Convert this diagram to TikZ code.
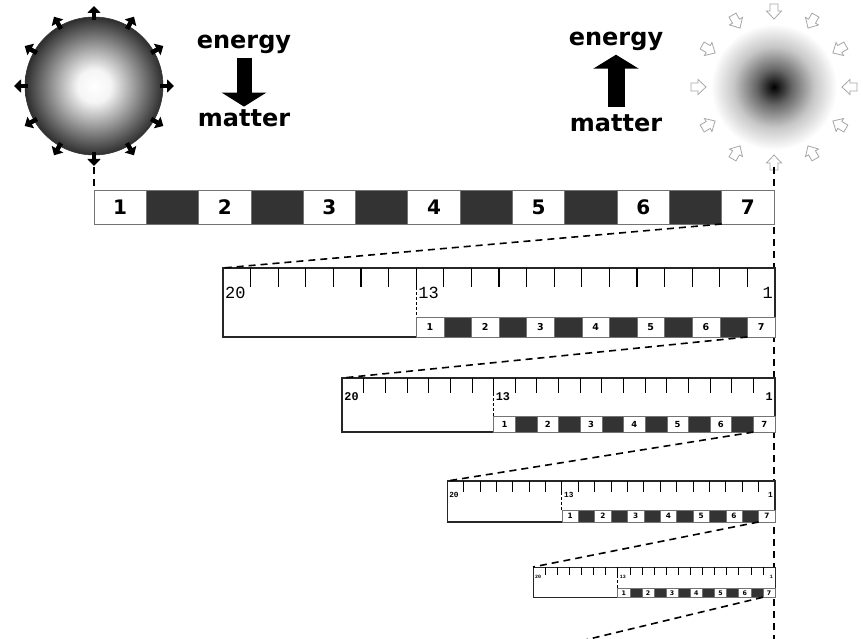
\documentclass[tikz,border=0pt]{standalone}
\usepackage{fontspec}
\setmainfont{DejaVu Sans}
\newfontfamily\rulerfont{Liberation Mono}
\usetikzlibrary{arrows.meta, positioning, calc}
\pgfdeclareradialshading{bright}{\pgfpoint{0bp}{0bp}}{color(0bp)=(white); color(6bp)=(white!96!black); color(25bp)=(black!82); color(50bp)=(black!82)}
\pgfdeclareradialshading{faded}{\pgfpoint{0bp}{0bp}}{color(0bp)=(black); color(7bp)=(black!60); color(16bp)=(black!22); color(25bp)=(white); color(50bp)=(white)}

\begin{document}
\begin{tikzpicture}[x=1pt, y=-1pt,
    cell/.style={draw=black!55, line width=0.8pt, fill=white, minimum width=52.31pt, minimum height=34pt, inner sep=0pt, outer sep=0pt, anchor=north west, font=\bfseries\fontsize{20}{20}\selectfont},
    minicell/.style={draw=black!55, line width=0.5pt, fill=white, inner sep=0pt, outer sep=0pt, anchor=north west},
    lvlbox/.style={draw=black!85, fill=white, inner sep=0pt, outer sep=0pt, anchor=north west},
    word/.style={font=\bfseries\fontsize{24}{24}\selectfont, anchor=base},
    guide/.style={line width=1.6pt, dash pattern=on 7pt off 5pt},
    zoomline/.style={line width=1.6pt, dash pattern=on 7pt off 5pt},
    sunray/.style={-{Triangle[width=13pt,length=7pt]}, line width=4.5pt},
    hollowarrow/.style={draw=black!35, line width=0.8pt, fill=white}
  ]
  \path[fill=white, use as bounding box] (0,0) rectangle (863,639);

  % radiating star and the fading one
  \node[circle, draw=black!80, line width=0.6pt, minimum size=138pt, inner sep=0pt, shading=bright] (sun) at (94,86) {};
  \foreach \a in {0,30,...,330}
    \draw[sunray, shift={(sun.center)}] (\a:66) -- (\a:80);
  \node[circle, minimum size=126pt, inner sep=0pt, shading=faded] (sink) at (774,87) {};
  \foreach \a in {0,30,...,330}
    \draw[hollowarrow, shift={(sink.center)}, rotate=\a] (83,-4) -- (76,-4) -- (76,-7.5) -- (68,0) -- (76,7.5) -- (76,4) -- (83,4) -- cycle;

  % energy / matter
  \node[word] (energyL) at (244,49) {energy};
  \node[word] (matterL) at (244,127) {matter};
  \draw[-{Triangle[width=44pt,length=14pt]}, line width=15pt] (energyL.south) -- (matterL.north);
  \node[word] (energyR) at (616,46) {energy};
  \node[word] (matterR) at (616,132) {matter};
  \draw[-{Triangle[width=45pt,length=14pt]}, line width=17pt] ([yshift=5pt]matterR.north) -- (energyR.south);

  % guide lines
  \coordinate (guideend) at (774,645);
  \draw[guide] ([yshift=-12pt]sun.south) -- (94,190);
  \draw[guide] ([yshift=-80pt]sink.center) -- (guideend);

  % the seven-cell bar
  \foreach \i in {1,...,7}
    \node[cell] (bar\i) at (94+104.62*\i-104.62,190) {\i};
  \foreach \i in {1,...,6}
    \node[cell, fill=black!80] (gap\i) at (94+104.62*\i-52.31,190) {};

  % zoomed windows
  \foreach \lv/\ty/\sc in {1/268/1, 2/378/0.784, 3/481/0.594, 4/567/0.4384} {
    \pgfmathsetmacro\bw{552*\sc}
    \pgfmathsetmacro\bh{69*\sc}
    \pgfmathsetmacro\du{\bw/20}
    \pgfmathsetmacro\lx{775-\bw}
    \pgfmathsetmacro\mh{20*\sc}
    \pgfmathsetmacro\tk{19*\sc}
    \pgfmathsetmacro\lw{2*\sc}
    \pgfmathsetmacro\tw{1.3*\sc}
    \pgfmathsetmacro\fa{17*\sc^1.5}
    \pgfmathsetmacro\fb{9.5*sqrt(\sc)}
    \node[lvlbox, minimum width=\bw pt, minimum height=\bh pt, line width=\lw pt] (box\lv) at (\lx,\ty) {};
    \foreach \k in {1,...,19}
      \draw[line width=\tw pt] (\lx+\k*\du,\ty) -- ++(0,\tk);
    \draw[line width=\tw pt, dash pattern=on 3pt off 2pt] (\lx+7*\du,\ty+\tk) -- (\lx+7*\du,\ty+\bh-\mh);
    \foreach \j in {1,...,13} {
      \pgfmathtruncatemacro\num{(\j+1)/2}
      \ifodd\j\relax
        \node[minicell, minimum width=\du pt, minimum height=\mh pt, font=\bfseries\fontsize{\fb}{\fb}\selectfont] (c\lv-\j) at (\lx+6*\du+\j*\du,\ty+\bh-\mh) {\num};
      \else
        \node[minicell, fill=black!80, minimum width=\du pt, minimum height=\mh pt] (c\lv-\j) at (\lx+6*\du+\j*\du,\ty+\bh-\mh) {};
      \fi
    }
    \node[anchor=north west, inner sep=1pt, font=\rulerfont\ifnum\lv>1 \bfseries\fi\fontsize{\fa}{\fa}\selectfont] (l\lv-20) at (\lx+1,\ty+\tk-1) {20};
    \node[anchor=north west, inner sep=1pt, font=\rulerfont\ifnum\lv>1 \bfseries\fi\fontsize{\fa}{\fa}\selectfont] (l\lv-13) at (\lx+7*\du+1,\ty+\tk-1) {13};
    \node[anchor=north east, inner sep=1pt, font=\rulerfont\ifnum\lv>1 \bfseries\fi\fontsize{\fa}{\fa}\selectfont] (l\lv-1) at (\lx+\bw-1,\ty+\tk-1) {1};
  }

  % zoom connectors
  \coordinate (nextbox) at (585,640);
  \draw[zoomline] (bar7.south west) -- (box1.north west);
  \foreach \a/\b in {1/2, 2/3, 3/4}
    \draw[zoomline] (c\a-13.south west) -- (box\b.north west);
  \draw[zoomline] (c4-13.south west) -- (nextbox);
\end{tikzpicture}
\end{document}
